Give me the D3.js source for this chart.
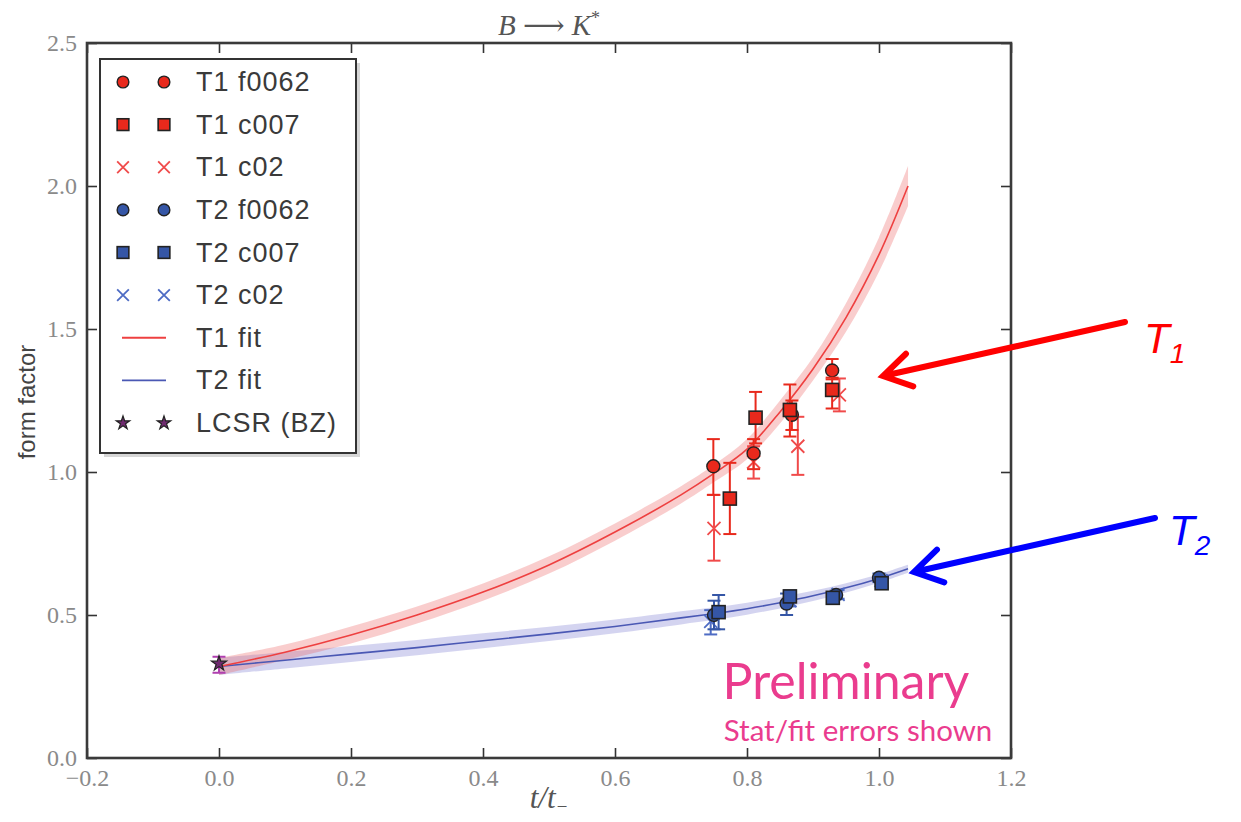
<!DOCTYPE html>
<html><head><meta charset="utf-8">
<script src="https://cdn.jsdelivr.net/npm/d3@7"></script>
<style>body{margin:0;background:#fff}svg{display:block}</style>
</head><body><svg id="c" width="1241" height="822"></svg>
<script>
// ---------- data ----------
const xTicks = [-0.2, 0.0, 0.2, 0.4, 0.6, 0.8, 1.0, 1.2];
const yTicks = [0.0, 0.5, 1.0, 1.5, 2.0, 2.5];

// fit curves [t/t-]
const fitX  = [0, 0.1, 0.2, 0.3, 0.4, 0.5, 0.6, 0.7, 0.75, 0.8, 0.85, 0.9, 0.95, 1.0, 1.044];
const t1Fit = [0.32, 0.37, 0.43, 0.50, 0.58, 0.675, 0.79, 0.92, 0.995, 1.08, 1.21, 1.36, 1.54, 1.76, 2.00];
const t1Lo  = [0.29, 0.343, 0.40, 0.47, 0.55, 0.645, 0.76, 0.89, 0.965, 1.045, 1.17, 1.32, 1.49, 1.70, 1.93];
const t1Hi  = [0.35, 0.397, 0.46, 0.53, 0.61, 0.705, 0.82, 0.95, 1.025, 1.115, 1.25, 1.40, 1.59, 1.82, 2.07];
const t2Fit = [0.32, 0.342, 0.364, 0.386, 0.41, 0.434, 0.46, 0.49, 0.505, 0.522, 0.543, 0.567, 0.595, 0.628, 0.662];
const t2Lo  = [0.29, 0.313, 0.336, 0.359, 0.384, 0.409, 0.436, 0.467, 0.483, 0.501, 0.523, 0.549, 0.579, 0.613, 0.648];
const t2Hi  = [0.35, 0.371, 0.392, 0.413, 0.436, 0.459, 0.484, 0.513, 0.527, 0.543, 0.563, 0.585, 0.611, 0.643, 0.676];

// data points: [x, y, lo, hi]
const t1f0062 = [[0.749, 1.02, 0.92, 1.115], [0.81, 1.065, 1.01, 1.115], [0.868, 1.20, 1.147, 1.25], [0.929, 1.355, 1.324, 1.395]];
const t1c007  = [[0.774, 0.907, 0.783, 1.032], [0.813, 1.19, 1.10, 1.28], [0.865, 1.217, 1.124, 1.306], [0.929, 1.287, 1.222, 1.33]];
const t1c02   = [[0.75, 0.803, 0.69, 0.92], [0.81, 1.035, 0.977, 1.09], [0.877, 1.09, 0.99, 1.193], [0.94, 1.27, 1.212, 1.327]];
const t2f0062 = [[0.75, 0.50, 0.45, 0.55], [0.86, 0.54, 0.50, 0.575], [0.935, 0.57, 0.555, 0.585], [1.0, 0.63, 0.615, 0.645]];
const t2c007  = [[0.757, 0.51, 0.45, 0.57], [0.865, 0.565, 0.545, 0.585], [0.93, 0.56, 0.545, 0.575], [1.004, 0.611, 0.597, 0.625]];
const t2c02   = [[0.745, 0.478, 0.432, 0.517], [0.865, 0.55, 0.53, 0.57], [0.938, 0.572, 0.557, 0.587], [1.003, 0.62, 0.605, 0.635]];
const lcsr    = [[0.0, 0.33, 0.298, 0.354]];

const legendLabels = ["T1 f0062", "T1 c007", "T1 c02", "T2 f0062", "T2 c007", "T2 c02", "T1 fit", "T2 fit", "LCSR (BZ)"];

// ---------- styles ----------
const RED = "#e8291c", RED_X = "#f04a4a", RED_LINE = "#ee4040", RED_BAND = "rgba(236,90,90,0.3)";
const BLUE = "#3556a6", BLUE_X = "#4e6cc4", BLUE_LINE = "#4a58b4", BLUE_BAND = "rgba(100,100,200,0.28)";
const PURPLE = "#6e2a6e", PURPLE_BAR = "#b040b0";

const svg = d3.select("#c");
svg.append("rect").attr("width", 1241).attr("height", 822).attr("fill", "#fff");

const L = 87, R = 1011, T = 43, B = 758;
const x = d3.scaleLinear().domain([-0.2, 1.2]).range([L, R]);
const y = d3.scaleLinear().domain([0, 2.5]).range([B, T]);

// ---------- bands & fits ----------
const crv = d3.curveCatmullRom.alpha(0.5);
const bandGen = d3.area().x(d => x(d[0])).y0(d => y(d[1])).y1(d => y(d[2])).curve(crv);
const lineGen = d3.line().x(d => x(d[0])).y(d => y(d[1])).curve(crv);
const t1Band = fitX.map((v, i) => [v, t1Lo[i], t1Hi[i]]);
const t2Band = fitX.map((v, i) => [v, t2Lo[i], t2Hi[i]]);
svg.append("path").attr("d", bandGen(t2Band)).attr("fill", BLUE_BAND);
svg.append("path").attr("d", bandGen(t1Band)).attr("fill", RED_BAND);
svg.append("path").attr("d", lineGen(fitX.map((v, i) => [v, t2Fit[i]]))).attr("fill", "none").attr("stroke", BLUE_LINE).attr("stroke-width", 1.6);
svg.append("path").attr("d", lineGen(fitX.map((v, i) => [v, t1Fit[i]]))).attr("fill", "none").attr("stroke", RED_LINE).attr("stroke-width", 1.6);

// ---------- markers ----------
function marker(g, kind, cx, cy, fill, scale) {
  scale = scale || 1;
  if (kind === "circle") {
    g.append("circle").attr("cx", cx).attr("cy", cy).attr("r", 6.5 * scale).attr("fill", fill).attr("stroke", "#222").attr("stroke-width", 1.4);
  } else if (kind === "square") {
    const s = 13 * scale;
    g.append("rect").attr("x", cx - s / 2).attr("y", cy - s / 2).attr("width", s).attr("height", s).attr("fill", fill).attr("stroke", "#222").attr("stroke-width", 1.6);
  } else if (kind === "cross") {
    const h = 6.5 * scale;
    g.append("path").attr("d", `M${cx - h},${cy - h}L${cx + h},${cy + h}M${cx - h},${cy + h}L${cx + h},${cy - h}`).attr("stroke", fill).attr("stroke-width", 1.8).attr("fill", "none");
  } else if (kind === "star") {
    g.append("path").attr("transform", `translate(${cx},${cy})`).attr("d", d3.symbol(d3.symbolStar, 70 * scale * scale)()).attr("fill", fill).attr("stroke", "#222").attr("stroke-width", 1.2);
  }
}
function series(data, kind, fill, barColor) {
  const g = svg.append("g");
  data.forEach(d => {
    const cx = x(d[0]);
    g.append("line").attr("x1", cx).attr("x2", cx).attr("y1", y(d[2])).attr("y2", y(d[3])).attr("stroke", barColor).attr("stroke-width", 2);
    [d[2], d[3]].forEach(v => g.append("line").attr("x1", cx - 6.5).attr("x2", cx + 6.5).attr("y1", y(v)).attr("y2", y(v)).attr("stroke", barColor).attr("stroke-width", 2));
  });
  data.forEach(d => marker(g, kind, x(d[0]), y(d[1]), fill));
}
series(t2c02, "cross", BLUE_X, BLUE_X);
series(t2f0062, "circle", BLUE, BLUE);
series(t2c007, "square", BLUE, BLUE);
series(t1c02, "cross", RED_X, RED_X);
series(t1f0062, "circle", RED, RED);
series(t1c007, "square", RED, RED);
series(lcsr, "star", PURPLE, PURPLE_BAR);

// ---------- axes ----------
const fmt = d3.format(".1f");
const tickFont = "Liberation Serif, DejaVu Serif, serif";
function styleAxis(g, labels) {
  g.select(".domain").remove();
  g.selectAll(".tick line").attr("stroke", "#333").attr("stroke-width", 1.6);
  g.selectAll(".tick text").attr("fill", "#8a8a8a").attr("font-family", tickFont).attr("font-size", 24);
  if (!labels) g.selectAll(".tick text").remove();
}
svg.append("g").attr("transform", `translate(0,${B})`).call(d3.axisBottom(x).tickValues(xTicks).tickFormat(fmt).tickSize(-10).tickPadding(11)).call(g => styleAxis(g, true));
svg.append("g").attr("transform", `translate(0,${T})`).call(d3.axisTop(x).tickValues(xTicks).tickSize(-10)).call(g => styleAxis(g, false));
svg.append("g").attr("transform", `translate(${L},0)`).call(d3.axisLeft(y).tickValues(yTicks).tickFormat(fmt).tickSize(-10).tickPadding(10)).call(g => styleAxis(g, true));
svg.append("g").attr("transform", `translate(${R},0)`).call(d3.axisRight(y).tickValues(yTicks).tickSize(-10)).call(g => styleAxis(g, false));
svg.append("rect").attr("x", L).attr("y", T).attr("width", R - L).attr("height", B - T).attr("fill", "none").attr("stroke", "#3a3a3a").attr("stroke-width", 2.6);

// titles
const title = svg.append("text").attr("x", (L + R) / 2).attr("y", 35).attr("text-anchor", "middle").attr("font-family", tickFont).attr("font-size", 29).attr("fill", "#555");
title.append("tspan").attr("font-style", "italic").text("B");
title.append("tspan").text(" ⟶ ");
title.append("tspan").attr("font-style", "italic").text("K");
title.append("tspan").attr("font-size", 18).attr("dy", -11).text("*");

const xl = svg.append("text").attr("x", (L + R) / 2).attr("y", 808).attr("text-anchor", "middle").attr("font-family", tickFont).attr("font-size", 31).attr("fill", "#555").attr("font-style", "italic");
xl.append("tspan").text("t/t");
xl.append("tspan").attr("font-size", 19).attr("dy", 5).text("−");

svg.append("text").attr("transform", "translate(26,402) rotate(-90)").attr("text-anchor", "middle").attr("dominant-baseline", "central")
  .attr("font-family", "Liberation Sans, Arial, sans-serif").attr("font-size", 24).attr("fill", "#444").text("form factor");

// ---------- legend ----------
const lg = svg.append("g");
lg.append("rect").attr("x", 104).attr("y", 63).attr("width", 256).attr("height", 394).attr("fill", "#bbb").attr("opacity", 0.6);
lg.append("rect").attr("x", 100).attr("y", 59).attr("width", 256).attr("height", 394).attr("fill", "#fff").attr("stroke", "#333").attr("stroke-width", 2);
const lgKinds = [["circle", RED], ["square", RED], ["cross", RED_X], ["circle", BLUE], ["square", BLUE], ["cross", BLUE_X], ["line", RED_LINE], ["line", BLUE_LINE], ["star", PURPLE]];
const rowY = d3.scaleLinear().domain([0, 8]).range([82, 423]);
legendLabels.forEach((lab, i) => {
  const cy = rowY(i);
  const [kind, col] = lgKinds[i];
  if (kind === "line") {
    lg.append("line").attr("x1", 122).attr("x2", 166).attr("y1", cy).attr("y2", cy).attr("stroke", col).attr("stroke-width", 1.8);
  } else {
    marker(lg, kind, 123, cy, col, 0.9);
    marker(lg, kind, 164, cy, col, 0.9);
  }
  lg.append("text").attr("x", 196).attr("y", cy).attr("dominant-baseline", "central").attr("font-family", "Liberation Sans, Arial, sans-serif")
    .attr("font-size", 27).attr("letter-spacing", 1).attr("fill", "#3a3a3a").text(lab);
});

// ---------- annotations ----------
svg.append("text").attr("x", 846).attr("y", 699).attr("text-anchor", "middle").attr("font-family", "Lato, sans-serif").attr("font-size", 50).attr("fill", "#ea3c8e").text("Preliminary");
svg.append("text").attr("x", 858).attr("y", 741).attr("text-anchor", "middle").attr("font-family", "Lato, sans-serif").attr("font-size", 29.5).attr("fill", "#ea3c8e").text("Stat/fit errors shown");

function arrow(x1, y1, x2, y2, col) {
  const ang = Math.atan2(y1 - y2, x1 - x2), len = 32, spread = 0.55;
  const p = `M${x1},${y1}L${x2},${y2}M${x2 + len * Math.cos(ang + spread)},${y2 + len * Math.sin(ang + spread)}L${x2},${y2}L${x2 + len * Math.cos(ang - spread)},${y2 + len * Math.sin(ang - spread)}`;
  svg.append("path").attr("d", p).attr("stroke", col).attr("stroke-width", 6).attr("fill", "none").attr("stroke-linecap", "round").attr("stroke-linejoin", "miter");
}
arrow(1125, 322, 883, 376, "#ff0000");
arrow(1155, 518, 914, 572, "#0000ff");

function tLabel(xp, yp, sub, col) {
  const t = svg.append("text").attr("x", xp).attr("y", yp).attr("font-family", "Liberation Sans, Arial, sans-serif").attr("font-style", "italic").attr("font-size", 42).attr("fill", col);
  t.append("tspan").text("T");
  t.append("tspan").attr("font-size", 28).attr("dy", 10).text(sub);
}
tLabel(1144, 353, "1", "#ff0000");
tLabel(1169, 545, "2", "#0000ff");
</script></body></html>
